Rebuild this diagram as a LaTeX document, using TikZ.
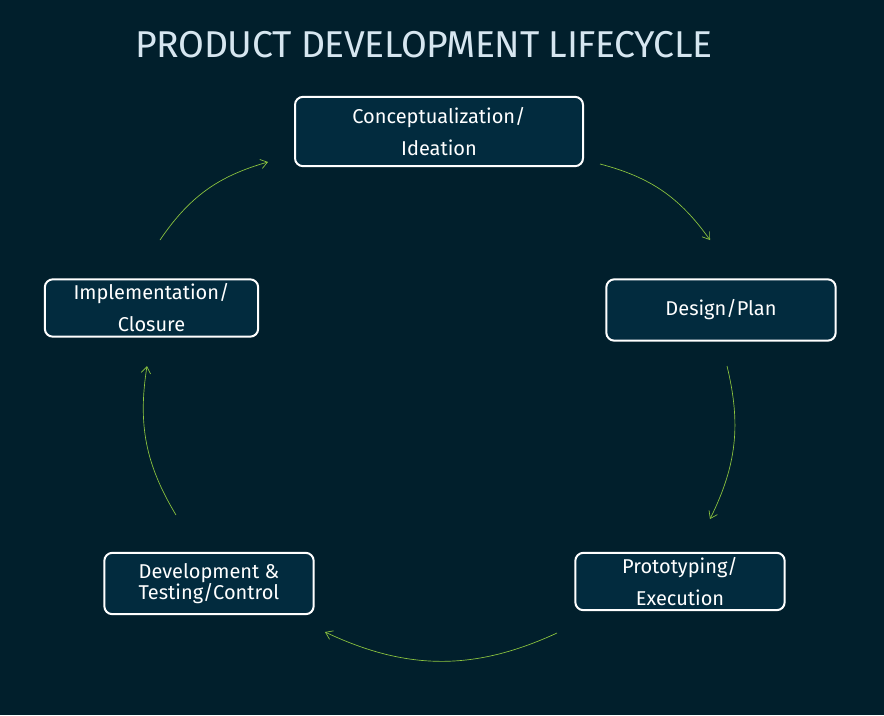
\documentclass[tikz,border=0pt]{standalone}
\usepackage{fontspec}
\usetikzlibrary{arrows.meta}
\setmainfont{Fira Sans}
\definecolor{bg}{HTML}{011F2C}
\definecolor{boxc}{HTML}{022B3E}
\definecolor{arr}{HTML}{8DC63F}
\definecolor{ttl}{HTML}{D6E6F0}
\begin{document}
\begin{tikzpicture}[x=0.75pt,y=-0.75pt,
  stage/.style={draw=white,line width=1.5pt,fill=boxc,rounded corners=6pt,text=white,align=center,font=\fontsize{15}{24}\selectfont,inner sep=0pt},
  flow/.style={draw=arr,line width=0.5pt,-{Straight Barb[length=5pt,width=7pt]}}]
\fill[bg] (0,0) rectangle (884,715);
\useasboundingbox (0,0) rectangle (884,715);
\node[text=ttl,font=\fontsize{28}{30}\selectfont\addfontfeatures{LetterSpace=-1}] (title) at (424,45) {PRODUCT DEVELOPMENT LIFECYCLE};
\node[stage,minimum width=216pt,minimum height=52pt] (c) at (439,131.5) {Conceptualization/\\Ideation};
\node[stage,minimum width=172pt,minimum height=46pt] (d) at (721,310) {Design/Plan};
\node[stage,minimum width=157pt,minimum height=43pt] (p) at (680,581.5) {Prototyping/\\Execution};
\node[stage,minimum width=157pt,minimum height=46pt,font=\fontsize{15}{16}\selectfont] (v) at (209,583.5) {Development \&\\Testing/Control};
\node[stage,minimum width=160pt,minimum height=43pt] (i) at (151.5,308) {Implementation/\\Closure};
\coordinate (a1) at (600,164); \coordinate (b1) at (710,240);
\coordinate (a2) at (727,366); \coordinate (b2) at (710,519);
\coordinate (a3) at (557,633); \coordinate (b3) at (325,632);
\coordinate (a4) at (176,515); \coordinate (b4) at (147,366);
\coordinate (a5) at (160,240); \coordinate (b5) at (268,162);
\draw[flow] (a1) to[bend left=20] (b1);
\draw[flow] (a2) to[bend left=20] (b2);
\draw[flow] (a3) to[bend left=25] (b3);
\draw[flow] (a4) to[bend left=20] (b4);
\draw[flow] (a5) to[bend left=20] (b5);
\end{tikzpicture}
\end{document}
